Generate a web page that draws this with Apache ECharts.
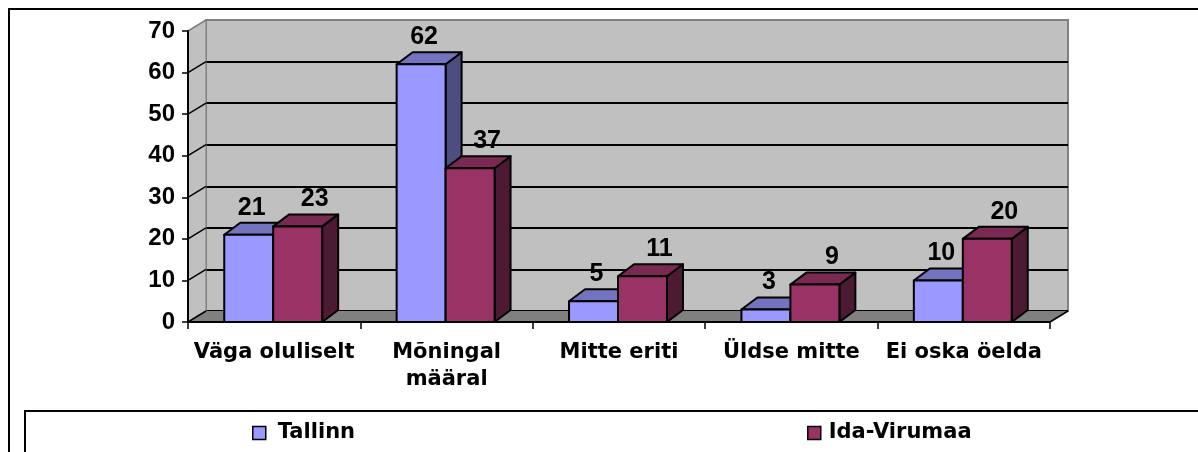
<!DOCTYPE html>
<html>
<head>
<meta charset="utf-8">
<title>Tallinn / Ida-Virumaa</title>
<script src="https://cdn.jsdelivr.net/npm/echarts@6/dist/echarts.min.js"></script>
<style>
    html, body {margin: 0; padding: 0; background: #fff;}
    #main {width: 1198px; height: 452px;}
</style>
</head>
<body>
<div id="main"></div>
<script>
var categories = ['Väga oluliselt', 'Mõningal\nmääral', 'Mitte eriti', 'Üldse mitte', 'Ei oska öelda'];
var tallinn = [21, 62, 5, 3, 10];
var idaVirumaa = [23, 37, 11, 9, 20];
var yTicks = [0, 10, 20, 30, 40, 50, 60, 70];

// 3d look
var WALL_DX = 18, WALL_DY = -11;
var BAR_DX = 16, BAR_DY = -12;
var BAR_FRAC = 0.284;
var NUM_FONT = '"Liberation Sans", Arial, sans-serif';
var TXT_FONT = '"DejaVu Sans", sans-serif';

function withStroke(fill) {
    return {fill: fill, stroke: '#000', lineWidth: 2, lineJoin: 'round'};
}

/**
 * one 3d box per value
 * @param side  -1 left half of the category, 1 right half
 */
function barRenderer(side, front, top, dark, labelShift) {
    return function (params, api) {
        var idx = api.value(0);
        var v = api.value(1);
        var p = api.coord([idx, v]);
        var b = api.coord([idx, 0]);
        var bw = api.size([1, 0])[0] * BAR_FRAC;
        var c = b[0] - 1;
        var x0 = side < 0 ? c - bw : c;
        var x1 = x0 + bw;
        var yT = p[1], yB = b[1];
        return {
            type: 'group',
            children: [
                {type: 'polygon', shape: {points: [[x1, yT], [x1, yB], [x1 + BAR_DX, yB + BAR_DY], [x1 + BAR_DX, yT + BAR_DY]]}, style: withStroke(dark)},
                {type: 'polygon', shape: {points: [[x0, yT], [x1, yT], [x1 + BAR_DX, yT + BAR_DY], [x0 + BAR_DX, yT + BAR_DY]]}, style: withStroke(top)},
                {type: 'rect', shape: {x: x0, y: yT, width: bw, height: yB - yT}, style: withStroke(front)},
                {type: 'text', x: (x0 + x1) / 2 + labelShift, y: yT - 27, style: {
                    text: String(v), fill: '#000', font: 'bold 25px ' + NUM_FONT, align: 'center', verticalAlign: 'middle'
                }}
            ]
        };
    };
}

// side wall, floor and the slanted tick lines
function wallRenderer(params, api) {
    var cs = params.coordSys;
    var v = api.value(1);
    var y = api.coord([0, v])[1];
    var kids = [];
    if (params.dataIndex === 0) {
        var l = cs.x, r = cs.x + cs.width, t = cs.y, bt = cs.y + cs.height;
        kids.push({type: 'polygon', shape: {points: [[l, bt], [l, t], [l + WALL_DX, t + WALL_DY], [l + WALL_DX, bt + WALL_DY]]},
            style: {fill: '#c0c0c0', stroke: '#808080', lineWidth: 1}});
        kids.push({type: 'polygon', shape: {points: [[l, bt], [r, bt], [r + WALL_DX, bt + WALL_DY], [l + WALL_DX, bt + WALL_DY]]},
            style: {fill: '#808080'}});
        kids.push({type: 'line', shape: {x1: r, y1: bt, x2: r + WALL_DX, y2: bt + WALL_DY}, style: {stroke: '#000', lineWidth: 1.5}});
    }
    kids.push({type: 'line', shape: {x1: cs.x, y1: y, x2: cs.x + WALL_DX, y2: y + WALL_DY},
        style: {stroke: v === 70 ? '#808080' : '#000', lineWidth: 1.5}});
    return {type: 'group', children: kids};
}

var chart = echarts.init(document.getElementById('main'));
var option = {
    animation: false,
    backgroundColor: '#fff',
    grid: [
        {left: 188, top: 31, width: 862, height: 291},
        {left: 188 + WALL_DX, top: 31 + WALL_DY, width: 862, height: 291, show: true,
            backgroundColor: '#c0c0c0', borderColor: '#808080', borderWidth: 2}
    ],
    xAxis: [
        {gridIndex: 0, type: 'category', data: categories, z: 5,
            axisLine: {lineStyle: {color: '#000', width: 2}},
            axisTick: {show: true, length: 7, interval: 0, lineStyle: {color: '#000', width: 1.5}},
            axisLabel: {interval: 0, margin: 17, color: '#000', fontFamily: TXT_FONT, fontWeight: 'bold', fontSize: 21, lineHeight: 27}},
        {gridIndex: 1, type: 'category', data: categories, show: false}
    ],
    yAxis: [
        {gridIndex: 0, type: 'value', min: 0, max: 70, interval: 10, z: 5,
            axisLine: {show: true, lineStyle: {color: '#000', width: 2}},
            axisTick: {show: true, length: 6, lineStyle: {color: '#000', width: 1.5}},
            axisLabel: {margin: 13, color: '#000', fontFamily: NUM_FONT, fontWeight: 'bold', fontSize: 24},
            splitLine: {show: false}},
        {gridIndex: 1, type: 'value', min: 0, max: 70, interval: 10,
            axisLine: {show: false}, axisTick: {show: false}, axisLabel: {show: false},
            splitLine: {show: true, lineStyle: {color: ['#000', '#000', '#000', '#000', '#000', '#000', '#000', '#808080'], width: 2}}}
    ],
    legend: [
        {data: ['Tallinn'], left: 252, top: 421, padding: 0, icon: 'rect', itemWidth: 13, itemHeight: 13,
            itemStyle: {borderColor: '#000', borderWidth: 1.5},
            textStyle: {color: '#000', fontFamily: TXT_FONT, fontWeight: 'bold', fontSize: 21, lineHeight: 24, padding: [0, 0, 0, 7]}},
        {data: ['Ida-Virumaa'], left: 807, top: 421, padding: 0, icon: 'rect', itemWidth: 13, itemHeight: 13,
            itemStyle: {borderColor: '#000', borderWidth: 1.5},
            textStyle: {color: '#000', fontFamily: TXT_FONT, fontWeight: 'bold', fontSize: 21, lineHeight: 24, padding: [0, 0, 0, 3]}}
    ],
    graphic: [
        {type: 'rect', z: -10, shape: {x: 9, y: 9, width: 1220, height: 500}, style: {fill: '#fff', stroke: '#000', lineWidth: 2}},
        {type: 'rect', z: 0, shape: {x: 25, y: 411, width: 1200, height: 100}, style: {fill: '#fff', stroke: '#000', lineWidth: 2}}
    ],
    series: [
        {type: 'custom', name: 'walls', xAxisIndex: 0, yAxisIndex: 0, z: 1, silent: true,
            renderItem: wallRenderer,
            data: yTicks.map(function (v) { return [0, v]; })},
        {type: 'custom', name: 'Tallinn', xAxisIndex: 0, yAxisIndex: 0, z: 2,
            itemStyle: {color: '#9999ff'},
            renderItem: barRenderer(-1, '#9999ff', '#7373c0', '#4d4d80', 3),
            data: tallinn.map(function (v, i) { return [i, v]; })},
        {type: 'custom', name: 'Ida-Virumaa', xAxisIndex: 0, yAxisIndex: 0, z: 2,
            itemStyle: {color: '#993366'},
            renderItem: barRenderer(1, '#993366', '#7a2952', '#4d1a33', 17),
            data: idaVirumaa.map(function (v, i) { return [i, v]; })}
    ]
};
chart.setOption(option);
</script>
</body>
</html>
